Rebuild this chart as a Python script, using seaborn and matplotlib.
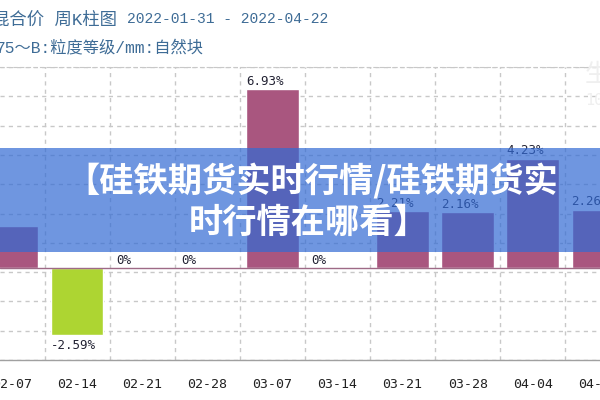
import matplotlib
matplotlib.use("Agg")
import matplotlib.pyplot as plt
import numpy as np
import pandas as pd
import seaborn as sns
from matplotlib.patches import Rectangle

# weekly change data
dates = ["02-07", "02-14", "02-21", "02-28", "03-07", "03-14", "03-21", "03-28", "04-04", "04-11"]
changes = [1.61, -2.59, 0, 0, 6.93, 0, 2.21, 2.16, 4.23, 2.26]

title_left = "混合价 周K柱图"
title_dates = "2022-01-31 - 2022-04-22"
subtitle = "75～B:粒度等级/mm:自然块"
banner_lines = ["【硅铁期货实时行情/硅铁期货实", "时行情在哪看】"]

pink = "#a9567f"
green = "#add532"
colors = [green if v < 0 else pink for v in changes]

df = pd.DataFrame({"date": dates, "change": changes})

sns.set_style("white")
plt.rcParams["font.family"] = ["DejaVu Sans Mono", "Noto Sans CJK SC"]

fig = plt.figure(figsize=(6, 4), dpi=100)
ax = fig.add_axes([0, 40 / 400, 1, 293 / 400])

bw = 0.81
sns.barplot(data=df, x="date", y="change", hue="date", palette=colors,
            legend=False, width=bw, saturation=1, ax=ax, zorder=2)

# grid
grid_c = "#c8c8c8"
px_per_unit = 25.8
ylo = (268 - 360) / px_per_unit
yhi = (268 - 67) / px_per_unit
ax.set_yticks(np.linspace(ylo, yhi, 11))
ax.set_yticklabels([])
ax.set_xticks(np.arange(len(dates)) + 0.5, minor=True)
ax.grid(axis="y", which="major", color=grid_c, linestyle=(0, (3, 3)), lw=1, zorder=0)
ax.grid(axis="x", which="minor", color=grid_c, linestyle=(0, (3, 3)), lw=1, zorder=0)
ax.set_axisbelow(True)
ax.tick_params(axis="both", which="both", length=0)
ax.tick_params(axis="x", pad=13, labelsize=9.5, labelcolor="#222222")
ax.set_xlabel("")
ax.set_ylabel("")

for s in ["left", "right"]:
    ax.spines[s].set_visible(False)
ax.spines["top"].set_color(grid_c)
ax.spines["top"].set_linestyle((0, (3, 3)))
ax.spines["bottom"].set_color("#a0a0a0")
ax.spines["bottom"].set_linewidth(1)

ax.axhline(0, color="#9e6a86", lw=1, zorder=3)

# value labels
for i, v in enumerate(changes):
    txt = "0%" if v == 0 else f"{v:.2f}%"
    if v < 0:
        ax.annotate(txt, (i - bw / 2, v), xytext=(0, -3), textcoords="offset points",
                    ha="left", va="top", fontsize=9, color="#222233")
    else:
        ax.annotate(txt, (i - bw / 2, v), xytext=(0, 1), textcoords="offset points",
                    ha="left", va="bottom", fontsize=9, color="#222233")

# limits last, set_xticks widens the view
step = 65.1
ax.set_ylim(ylo, yhi)
ax.set_xlim(-12 / step, (600 - 12) / step)

# header texts
hdr_c = "#3e6c96"
fam = ["Liberation Mono", "Noto Sans CJK SC"]
fig.text(117 / 600, 1 - 19 / 400, title_left, ha="right", va="center", fontsize=12.5,
         color=hdr_c, family=fam)
fig.text(127 / 600, 1 - 19 / 400, title_dates, ha="left", va="center", fontsize=10.5,
         color=hdr_c, family=fam)
fig.text(204 / 600, 1 - 47 / 400, subtitle, ha="right", va="center", fontsize=11.7,
         color=hdr_c, family=fam)

# faint watermark
fig.text(585 / 600, 1 - 75 / 400, "生意社", ha="left", va="center", fontsize=18,
         color="#efefef", family=["Noto Sans CJK SC"])
fig.text(585 / 600, 1 - 100 / 400, "100ppi", ha="left", va="center", fontsize=11,
         color="#efefef")

# banner overlay
fig.patches.append(Rectangle((0, (400 - 252) / 400), 1, 104 / 400, transform=fig.transFigure,
                             facecolor=(50 / 255, 106 / 255, 212 / 255), alpha=0.7,
                             edgecolor="none", zorder=5))
fig.text(312 / 600, 1 - 181 / 400, banner_lines[0], ha="center", va="center", fontsize=24.7,
         color="white", fontweight="heavy", family=["Noto Sans CJK SC"], zorder=6)
fig.text(309 / 600, 1 - 222 / 400, banner_lines[1], ha="center", va="center", fontsize=24.7,
         color="white", fontweight="heavy", family=["Noto Sans CJK SC"], zorder=6)

fig.savefig("out.png", dpi=100)
